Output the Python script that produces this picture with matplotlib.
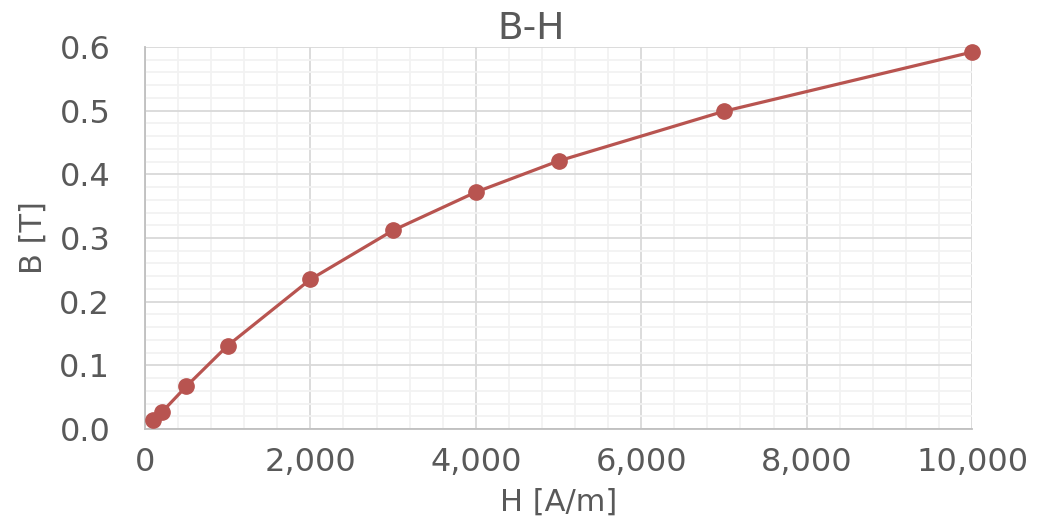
import matplotlib
matplotlib.use("Agg")
import matplotlib.pyplot as plt
from matplotlib.ticker import MultipleLocator, FuncFormatter

H = [100, 200, 500, 1000, 2000, 3000, 4000, 5000, 7000, 10000]
B = [0.014, 0.026, 0.067, 0.131, 0.235, 0.312, 0.372, 0.421, 0.499, 0.592]
title = "B-H"
xlabel = "H [A/m]"
ylabel = "B [T]"

plt.rcParams['font.family'] = ['DejaVu Sans']
txt = '#595959'
col = '#B85450'

fig = plt.figure(figsize=(10.4, 5.3), dpi=100)
ax = fig.add_axes([145/1040, 1-429/530, (972-145)/1040, (429-47)/530])
ax.plot(H, B, color=col, lw=2.3, marker='o', ms=11, mfc=col, mec=col, zorder=5, clip_on=False)
ax.set_xlim(0, 10000)
ax.set_ylim(0, 0.6)
ax.xaxis.set_major_locator(MultipleLocator(2000))
ax.xaxis.set_minor_locator(MultipleLocator(400))
ax.yaxis.set_major_locator(MultipleLocator(0.1))
ax.yaxis.set_minor_locator(MultipleLocator(0.02))
ax.xaxis.set_major_formatter(FuncFormatter(lambda v, p: f"{int(round(v)):,}"))
ax.yaxis.set_major_formatter(FuncFormatter(lambda v, p: f"{v:.1f}"))
ax.grid(which='major', color='#D9D9D9', lw=1.3)
ax.grid(which='minor', color='#F2F2F2', lw=1.3)
ax.set_axisbelow(True)
ax.tick_params(which='both', length=0, labelsize=23, colors=txt)
ax.tick_params(axis='x', pad=13)
ax.tick_params(axis='y', pad=25)
for s in ['top', 'right']:
    ax.spines[s].set_visible(False)
for s in ['left', 'bottom']:
    ax.spines[s].set_color('#BFBFBF')
    ax.spines[s].set_linewidth(1.3)
ax.set_title(title, fontsize=27, color=txt, pad=-2, x=0.467)
ax.set_xlabel(xlabel, fontsize=22, color=txt, labelpad=7)
ax.set_ylabel(ylabel, fontsize=22, color=txt, labelpad=8)
fig.savefig("out.png", dpi=100)
